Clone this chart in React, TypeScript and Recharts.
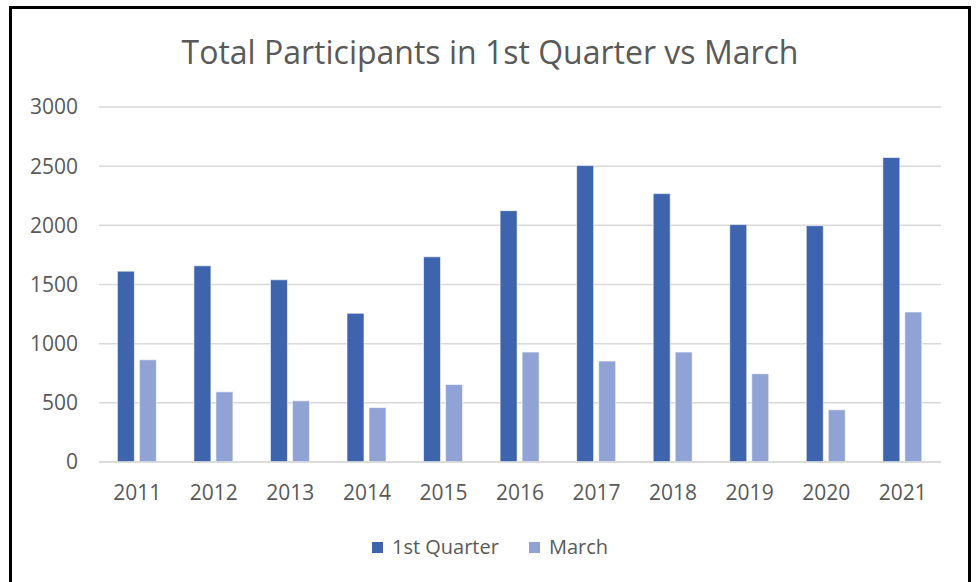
import { Bar, BarChart, CartesianGrid, Legend, XAxis, YAxis } from 'recharts';

const years = ['2011', '2012', '2013', '2014', '2015', '2016', '2017', '2018', '2019', '2020', '2021'];
const firstQuarter = [1613, 1658, 1540, 1257, 1734, 2124, 2505, 2268, 2006, 1997, 2573];
const march = [864, 593, 517, 460, 655, 929, 853, 929, 746, 441, 1268];
const yTicks = [0, 500, 1000, 1500, 2000, 2500, 3000];
const seriesNames = ['1st Quarter', 'March'];

const font = '"Open Sans", sans-serif';
const textColor = '#595959';

const data = years.map((year, i) => ({
  year,
  q1: firstQuarter[i],
  march: march[i],
}));

function LegendContent({ payload }: { payload?: { value: string; color: string }[] }) {
  return (
    <div
      style={{
        display: 'flex',
        justifyContent: 'center',
        gap: 30,
        fontFamily: font,
        fontSize: 20,
        lineHeight: '24px',
        color: textColor,
      }}
    >
      {(payload ?? []).map((item) => (
        <span key={item.value} style={{ display: 'flex', alignItems: 'center' }}>
          <span style={{ width: 11, height: 11, background: item.color, marginRight: 9 }} />
          {item.value}
        </span>
      ))}
    </div>
  );
}

export default function App() {
  return (
    <div
      style={{
        position: 'absolute',
        left: 9,
        top: 6,
        width: 956,
        height: 590,
        border: '3px solid #000',
        background: '#fff',
      }}
    >
      <div
        style={{
          position: 'absolute',
          top: 23,
          left: 0,
          width: '100%',
          textAlign: 'center',
          fontFamily: font,
          fontSize: 32,
          lineHeight: '40px',
          color: textColor,
        }}
      >
        Total Participants in 1st Quarter vs March
      </div>
      <BarChart
        width={956}
        height={580}
        data={data}
        margin={{ top: 98, right: 27, left: 27, bottom: 30 }}
        barCategoryGap="24%"
        barGap={5}
      >
        <CartesianGrid vertical={false} stroke="#D9D9D9" strokeWidth={1.5} />
        <XAxis
          dataKey="year"
          height={73}
          tickLine={false}
          axisLine={{ stroke: '#D9D9D9', strokeWidth: 1.5 }}
          tickMargin={17}
          tick={{ fill: textColor, fontSize: 21, fontFamily: font }}
        />
        <YAxis
          width={60}
          domain={[0, 3000]}
          ticks={yTicks}
          tickLine={false}
          axisLine={false}
          tickMargin={15}
          tick={{ fill: textColor, fontSize: 21, fontFamily: font }}
        />
        <Legend verticalAlign="bottom" content={<LegendContent />} />
        <Bar dataKey="q1" name={seriesNames[0]} fill="#3E64AD" stroke="#ffffff" strokeOpacity={0.6} strokeWidth={1} isAnimationActive={false} />
        <Bar dataKey="march" name={seriesNames[1]} fill="#91A3D5" stroke="#ffffff" strokeOpacity={0.6} strokeWidth={1} isAnimationActive={false} />
      </BarChart>
    </div>
  );
}
